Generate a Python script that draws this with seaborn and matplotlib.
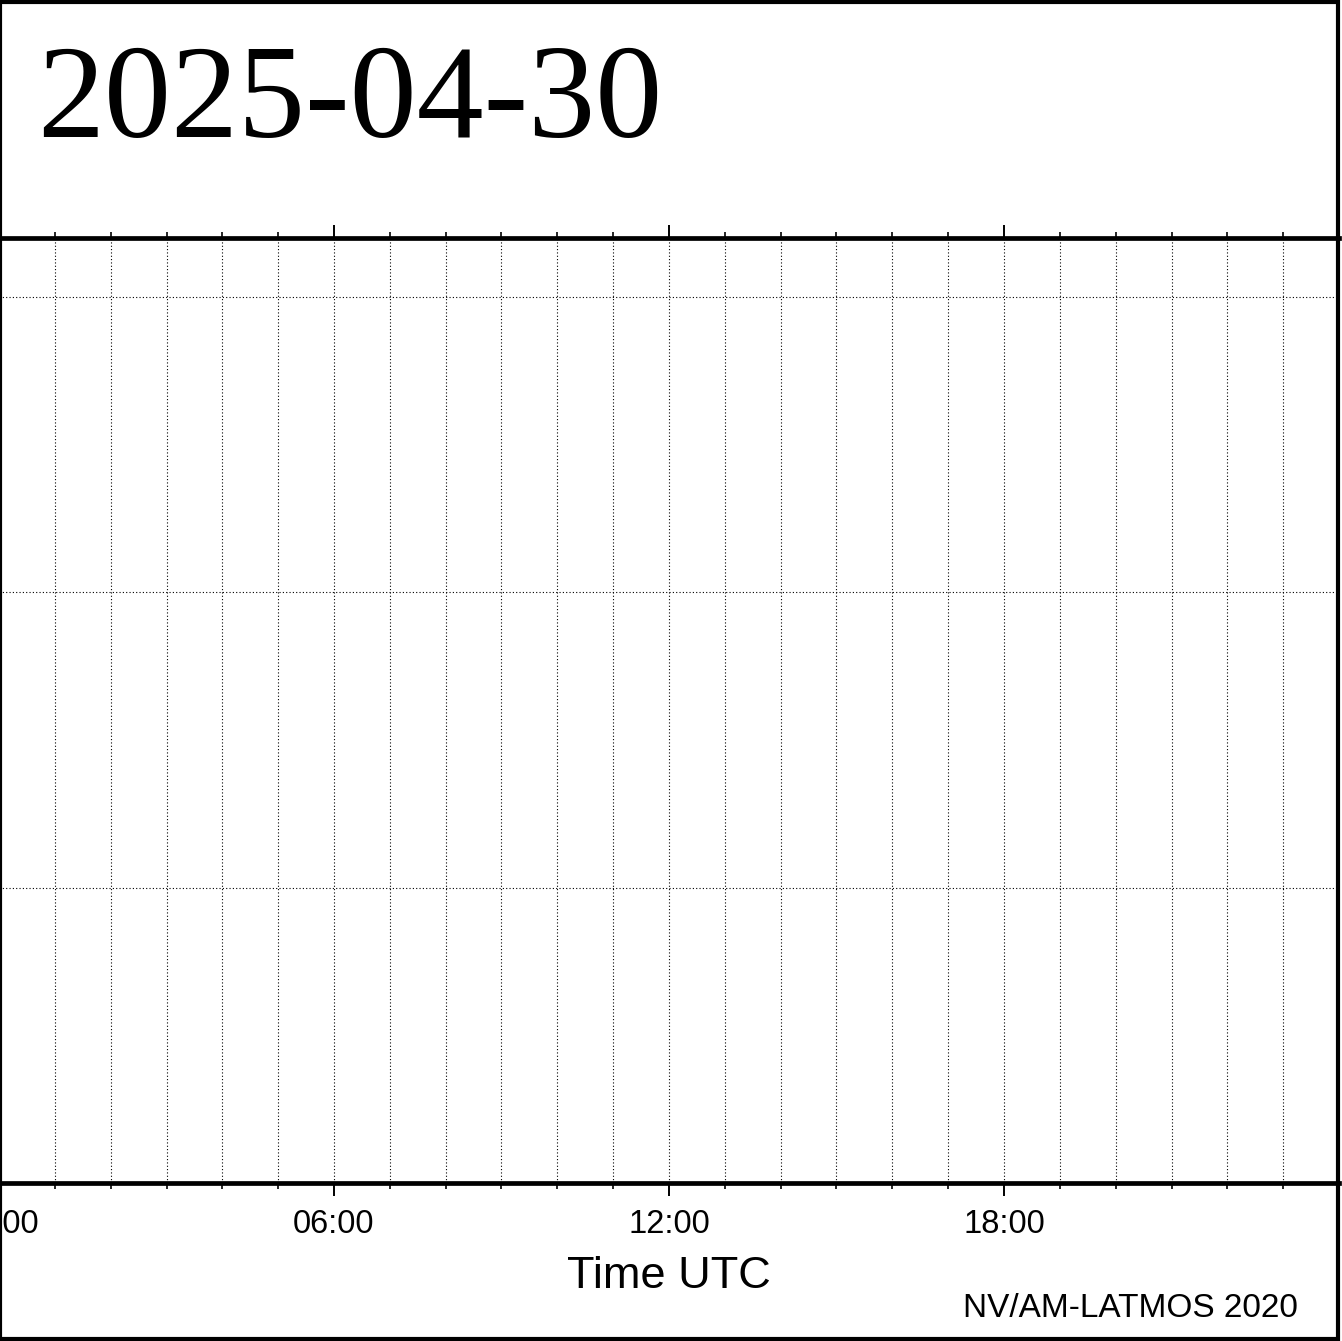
import matplotlib
matplotlib.use("Agg")
import matplotlib.pyplot as plt
import matplotlib.ticker as mticker
from matplotlib.patches import Rectangle
import pandas as pd
import seaborn as sns

# data: the day has no measurements, only the time frame is drawn
times_h = []
values = []
major_hours = [0, 6, 12, 18]
minor_hours = list(range(0, 24))
hour_labels = ["00:00", "06:00", "12:00", "18:00"]
grid_levels = [1, 2, 3]
x_range = [0, 24]
y_range = [0, 3.2]
date_label = "2025-04-30"
x_title = "Time UTC"
credit = "NV/AM-LATMOS 2020"


def main():
    sns.set_style("white")
    plt.rcParams['font.family'] = ['Liberation Sans', 'DejaVu Sans']

    W, H = 1342, 1341
    fig = plt.figure(figsize=(W / 100, H / 100), dpi=100)
    # axes runs edge to edge, from 00:00 to 24:00
    ax = fig.add_axes([-1 / W, 1 - 1183 / H, 1340 / W, (1183 - 238) / H])

    df = pd.DataFrame({"hour": pd.Series(times_h, dtype=float),
                       "value": pd.Series(values, dtype=float)})
    if len(df):
        sns.lineplot(data=df, x="hour", y="value", ax=ax, color="black")

    ax.set_xlim(x_range)
    ax.set_ylim(y_range)
    ax.xaxis.set_major_locator(mticker.FixedLocator(major_hours))
    ax.xaxis.set_major_formatter(mticker.FixedFormatter(hour_labels))
    ax.xaxis.set_minor_locator(mticker.FixedLocator(minor_hours))
    ax.yaxis.set_major_locator(mticker.FixedLocator(grid_levels))
    ax.set_yticklabels([])

    ax.tick_params(axis='x', which='major', top=True, bottom=True, direction='out',
                   length=9.5, width=1.4, labelsize=23.5, pad=9.5, colors='black')
    ax.tick_params(axis='x', which='minor', top=True, bottom=True, direction='out',
                   length=4, width=1.4)
    ax.tick_params(axis='y', which='both', left=False, right=False, length=0)

    grid_kw = dict(color='black', linestyle=(0, (1, 2)), linewidth=0.8)
    ax.grid(True, axis='x', which='both', **grid_kw)
    ax.grid(True, axis='y', which='major', **grid_kw)

    for side in ['top', 'bottom']:
        ax.spines[side].set_linewidth(3.4)
        ax.spines[side].set_color('black')
    for side in ['left', 'right']:
        ax.spines[side].set_visible(False)

    ax.set_xlabel(x_title, fontsize=32.5, labelpad=11, color='black')
    ax.set_ylabel("")

    # date heading in the top box
    fig.text(37 / W, 1 - 137 / H, date_label, fontsize=96.5, va='baseline', ha='left',
             family=['Liberation Serif', 'DejaVu Serif'], color='black')
    fig.text(1298 / W, 1 - 1317 / H, credit, fontsize=24, va='baseline', ha='right',
             color='black')

    # outer frame around the whole picture
    fig.patches.append(Rectangle((0, 1 - 1338.5 / H), 1338 / W, 1336.5 / H,
                                 transform=fig.transFigure, fill=False,
                                 edgecolor='black', linewidth=3, zorder=10))

    fig.savefig("out.png", dpi=100)
    plt.close(fig)


if __name__ == '__main__':
    main()
